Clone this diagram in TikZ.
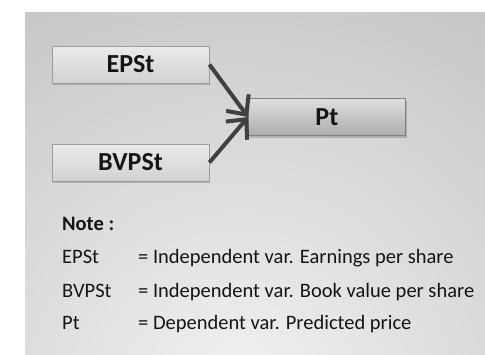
\documentclass[tikz,border=0pt]{standalone}
\usepackage{fontspec}
\setmainfont{Carlito}
\usetikzlibrary{arrows.meta,shadows}
\definecolor{boxline}{HTML}{9C9C9C}
\definecolor{arrowcol}{HTML}{404040}
\definecolor{txt}{HTML}{151515}
\tikzset{
  inbox/.style={draw=boxline, line width=0.8pt, top color=white!92!black, bottom color=white!82!black,
    minimum width=157pt, minimum height=37pt, inner sep=0pt, text=txt,
    font=\fontsize{26}{28}\selectfont\bfseries,
    drop shadow={shadow xshift=1pt, shadow yshift=-2pt, opacity=0.35, fill=black!60}},
  outbox/.style={inbox, top color=white!87!black, bottom color=white!68!black, draw=black!50},
  conn/.style={draw=arrowcol, line width=4pt, -{Straight Barb[length=15pt,width=28pt,line width=4pt]}},
  notetxt/.style={anchor=base west, inner sep=0pt, text=txt, font=\fontsize{20.5}{24}\selectfont}
}
\begin{document}
\begin{tikzpicture}[x=1pt,y=-1pt]
\useasboundingbox (0,0) rectangle (485,354);
\fill[white] (0,0) rectangle (485,354);
\begin{scope}
\clip (25,12) rectangle (485,354);
\shade[inner color=white!95!black, outer color=white!77!black] (240,400) circle (470);
\end{scope}
\node[inbox] (e) at (130.5,64.5) {EPSt};
\node[inbox] (b) at (130.5,162.5) {BVPSt};
\node[outbox] (p) at (327,117) {Pt};
\draw[conn] (e.east) -- (p.west);
\draw[conn] (b.east) -- (p.west);
\node[notetxt, font=\fontsize{20.5}{24}\selectfont\bfseries] (n0) at (62,230) {Note :};
\node[notetxt] (n1) at (62,263) {EPSt};
\node[notetxt] (d1) at (138,263) {= Independent var. Earnings per share};
\node[notetxt] (n2) at (62,297) {BVPSt};
\node[notetxt] (d2) at (138,297) {= Independent var. Book value per share};
\node[notetxt] (n3) at (62,329) {Pt};
\node[notetxt] (d3) at (138,329) {= Dependent var. Predicted price};
\end{tikzpicture}
\end{document}
